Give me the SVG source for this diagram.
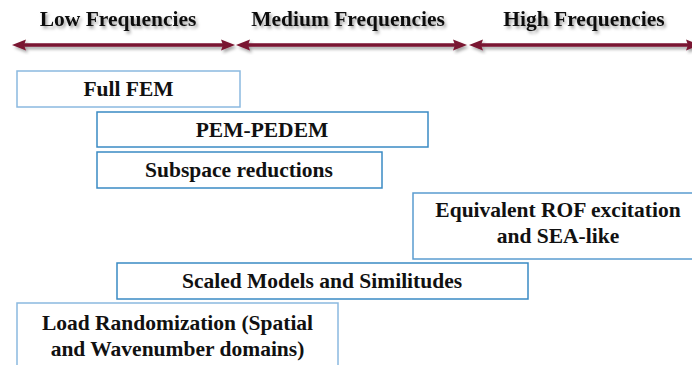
<svg xmlns="http://www.w3.org/2000/svg" width="692" height="365" viewBox="0 0 692 365">
<style>
text{font-family:'Liberation Serif','DejaVu Serif',serif;font-weight:bold;font-size:21.5px;fill:#111;text-anchor:middle}
.box{fill:#fff;stroke:#3A8AC4;stroke-width:1.5}
.light{stroke:#8BB9E0}
.arr{stroke:#7A1631;stroke-width:3.5;fill:none}
.head{fill:#7A1631}
</style>
<defs>
<filter id="sh" x="-10%" y="-30%" width="120%" height="170%">
<feDropShadow dx="2" dy="2.5" stdDeviation="1.5" flood-color="#000" flood-opacity="0.35"/>
</filter>
</defs>
<g id="headers" filter="url(#sh)">
<text x="118" y="26">Low Frequencies</text>
<text x="348" y="26">Medium Frequencies</text>
<text x="584" y="26">High Frequencies</text>
</g>
<g id="connectors" filter="url(#sh)">
<line class="arr" x1="22" y1="45" x2="225" y2="45"/>
<path class="head" d="M12,45 L26,39.5 L24,45 L26,50.5 Z"/>
<path class="head" d="M235,45 L221,39.5 L223,45 L221,50.5 Z"/>
<line class="arr" x1="246" y1="45" x2="457" y2="45"/>
<path class="head" d="M236,45 L250,39.5 L248,45 L250,50.5 Z"/>
<path class="head" d="M467,45 L453,39.5 L455,45 L453,50.5 Z"/>
<line class="arr" x1="479" y1="45" x2="690" y2="45"/>
<path class="head" d="M469,45 L483,39.5 L481,45 L483,50.5 Z"/>
<path class="head" d="M700,45 L686,39.5 L688,45 L686,50.5 Z"/>
</g>
<g id="full-fem">
<rect class="box light" x="17" y="71" width="223" height="36"/>
<text x="128.5" y="96">Full FEM</text>
</g>
<g id="pem-pedem">
<rect class="box" x="97" y="112" width="331" height="35"/>
<text x="262" y="136.5">PEM-PEDEM</text>
</g>
<g id="subspace">
<rect class="box" x="97" y="152" width="285" height="36"/>
<text x="239" y="177">Subspace reductions</text>
</g>
<g id="equivalent">
<rect class="box" x="413" y="193" width="290" height="66" style="stroke:#5A9CD0"/>
<text x="558" y="217">Equivalent ROF excitation</text>
<text x="558" y="243">and SEA-like</text>
</g>
<g id="scaled">
<rect class="box" x="117" y="263" width="411" height="36"/>
<text x="322" y="288">Scaled Models and Similitudes</text>
</g>
<g id="load">
<rect class="box light" x="17" y="303" width="321" height="80"/>
<text x="177.5" y="330">Load Randomization (Spatial</text>
<text x="177.5" y="356">and Wavenumber domains)</text>
</g>
</svg>
